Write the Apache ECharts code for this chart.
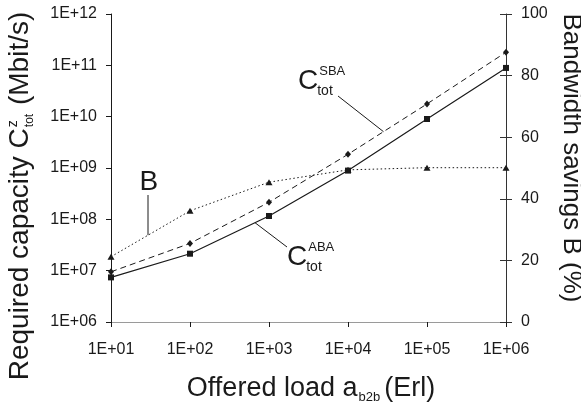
<!DOCTYPE html>
<html>
<head>
<meta charset="utf-8">
<script src="https://cdn.jsdelivr.net/npm/echarts@6/dist/echarts.min.js"></script>
<style>
  html, body { margin: 0; padding: 0; background: #ffffff; }
  #chart { width: 581px; height: 410px; }
</style>
</head>
<body>
<div id="chart"></div>
<script>
// Offered load (Erl) and the three curves drawn against it
const offeredLoad = [1e1, 1e2, 1e3, 1e4, 1e5, 1e6];
const capacitySBA = [9.5e6, 3.4e7, 2.15e8, 1.85e9, 1.77e10, 1.8e11];   // Mbit/s
const capacityABA = [7.4e6, 2.14e7, 1.16e8, 8.9e8, 9.0e9, 8.9e10];     // Mbit/s
const savingsB = [21.2, 36.1, 45.4, 49.4, 50.1, 50.1];                // %

// Tick labels
const loadTicks = ['1E+01', '1E+02', '1E+03', '1E+04', '1E+05', '1E+06'];
const capacityTicks = ['1E+06', '1E+07', '1E+08', '1E+09', '1E+10', '1E+11', '1E+12'];
const savingsTicks = [0, 20, 40, 60, 80, 100];

const FONT = '"Liberation Sans", Arial, Helvetica, sans-serif';
const INK = '#1a1a1a';

function labelByExponent(labels) {
  const map = {};
  labels.forEach(l => { map[Number(l.slice(3))] = l; });
  return v => map[Math.round(Math.log10(v))] || '';
}

const chart = echarts.init(document.getElementById('chart'));

const axisText = { fontFamily: FONT, fontSize: 16, color: INK };

chart.setOption({
  animation: false,
  backgroundColor: '#ffffff',
  grid: { left: 111, right: 75, top: 14, bottom: 88, containLabel: false, outerBoundsMode: 'none' },
  xAxis: [
    {
      type: 'log', logBase: 10, min: offeredLoad[0], max: offeredLoad[offeredLoad.length - 1],
      splitNumber: loadTicks.length - 1,
      axisLine: { show: true, lineStyle: { color: INK, width: 1 } },
      axisTick: { show: true, length: 5, lineStyle: { color: INK } },
      minorTick: { show: false },
      axisLabel: Object.assign({ margin: 20, formatter: labelByExponent(loadTicks) }, axisText),
      splitLine: { show: false }
    },
    {
      // thin frame line along the top of the plot
      type: 'log', logBase: 10, min: offeredLoad[0], max: offeredLoad[offeredLoad.length - 1],
      position: 'top',
      axisLine: { show: true, lineStyle: { color: '#9a9a9a', width: 1 } },
      axisTick: { show: false }, axisLabel: { show: false }, splitLine: { show: false }
    }
  ],
  yAxis: [
    {
      type: 'log', logBase: 10, min: 1e6, max: 1e12,
      splitNumber: capacityTicks.length - 1,
      axisLine: { show: true, lineStyle: { color: INK, width: 1 } },
      axisTick: { show: true, length: 5, lineStyle: { color: INK } },
      minorTick: { show: false },
      axisLabel: Object.assign({ margin: 14, formatter: labelByExponent(capacityTicks) }, axisText),
      splitLine: { show: false }
    },
    {
      type: 'value', position: 'right',
      min: savingsTicks[0], max: savingsTicks[savingsTicks.length - 1],
      interval: savingsTicks[1] - savingsTicks[0],
      axisLine: { show: true, lineStyle: { color: '#333333', width: 1 } },
      axisTick: { show: true, length: 6, lineStyle: { color: '#333333' } },
      axisLabel: Object.assign({ margin: 15 }, axisText),
      splitLine: { show: false }
    },
    {
      // inner half of the right-hand ticks, so they cross the axis line
      type: 'value', position: 'right',
      min: savingsTicks[0], max: savingsTicks[savingsTicks.length - 1],
      interval: savingsTicks[1] - savingsTicks[0],
      axisLine: { show: false },
      axisTick: { show: true, inside: true, length: 6, lineStyle: { color: '#333333' } },
      axisLabel: { show: false }, splitLine: { show: false }
    }
  ],
  series: [
    {
      name: 'B', type: 'line', xAxisIndex: 0, yAxisIndex: 1,
      data: offeredLoad.map((x, i) => [x, savingsB[i]]),
      symbol: 'triangle', symbolSize: [7, 6],
      lineStyle: { color: INK, width: 1, type: [1.5, 2.5] },
      itemStyle: { color: INK }, emphasis: { disabled: true }, z: 2
    },
    {
      name: 'SBA', type: 'line', xAxisIndex: 0, yAxisIndex: 0,
      data: offeredLoad.map((x, i) => [x, capacitySBA[i]]),
      symbol: 'diamond', symbolSize: [6, 7],
      lineStyle: { color: INK, width: 1, type: [6, 4] },
      itemStyle: { color: INK }, emphasis: { disabled: true }, z: 3
    },
    {
      name: 'ABA', type: 'line', xAxisIndex: 0, yAxisIndex: 0,
      data: offeredLoad.map((x, i) => [x, capacityABA[i]]),
      symbol: 'rect', symbolSize: 6,
      lineStyle: { color: INK, width: 1.2 },
      itemStyle: { color: INK }, emphasis: { disabled: true }, z: 4
    }
  ]
});

// ---- text helpers: a run of pieces on one baseline, with stacked super/subscripts
const measureCtx = document.createElement('canvas').getContext('2d');
function textWidth(str, size) {
  measureCtx.font = size + 'px ' + FONT;
  return measureCtx.measureText(str).width;
}
function textRun(pieces) {
  let x = 0;
  const children = [];
  pieces.forEach(p => {
    const parts = p.stack || [p];
    let adv = 0;
    parts.forEach(q => {
      const dx = q.dx || 0, dy = q.dy || 0;
      children.push({
        type: 'text', silent: true,
        x: x + dx, y: dy - 0.35 * q.size,
        style: { text: q.t, font: q.size + 'px ' + FONT, fill: INK,
                 textAlign: 'left', textVerticalAlign: 'middle' }
      });
      adv = Math.max(adv, textWidth(q.t, q.size) + dx);
    });
    x += adv + (p.gap || 0);
  });
  return { children, width: x };
}

// Point on a curve at a given pixel x, interpolated between the data points in log-x
function anchorOnSeries(values, yAxisIndex, logY, px) {
  const xd = chart.convertFromPixel({ xAxisIndex: 0 }, px);
  const lx = Math.log10(xd);
  const i = Math.min(Math.floor(lx) - 1, values.length - 2);
  const t = lx - (i + 1);
  const y = logY
    ? Math.pow(10, Math.log10(values[i]) + t * (Math.log10(values[i + 1]) - Math.log10(values[i])))
    : values[i] + t * (values[i + 1] - values[i]);
  return chart.convertToPixel({ xAxisIndex: 0, yAxisIndex: yAxisIndex }, [xd, y]);
}

const graphics = [];

// Axis titles
const xTitle = textRun([
  { t: 'Offered load a', size: 27 },
  { stack: [{ t: 'b2b', size: 13, dy: 4, dx: 1 }], gap: 4 },
  { t: '(Erl)', size: 27 }
]);
graphics.push({ type: 'group', x: 311 - xTitle.width / 2, y: 397.5, children: xTitle.children });

const leftTitle = textRun([
  { t: 'Required capacity C', size: 28 },
  { stack: [{ t: 'z', size: 14, dy: -12, dx: 1 }, { t: 'tot', size: 12, dy: 3, dx: 1 }], gap: 1 },
  { t: ' (Mbit/s)', size: 28 }
]);
graphics.push({
  type: 'group', x: 30.5, y: 196 + leftTitle.width / 2,
  rotation: Math.PI / 2, children: leftTitle.children
});

const rightTitle = textRun([{ t: 'Bandwidth savings B (%)', size: 26 }]);
graphics.push({
  type: 'group', x: 562, y: 158 - rightTitle.width / 2,
  rotation: -Math.PI / 2, children: rightTitle.children
});

// Curve annotations with leader lines
const leader = (from, to) => ({
  type: 'line', silent: true,
  shape: { x1: from[0], y1: from[1], x2: to[0], y2: to[1] },
  style: { stroke: INK, lineWidth: 1 }
});

const bLabel = textRun([{ t: 'B', size: 28 }]);
graphics.push({ type: 'group', x: 139.5, y: 191.7, children: bLabel.children });
graphics.push(leader([148, 195], anchorOnSeries(savingsB, 1, false, 148)));

const sbaLabel = textRun([
  { t: 'C', size: 28 },
  { stack: [{ t: 'SBA', size: 13, dy: -15, dx: 1 }, { t: 'tot', size: 14, dy: 5, dx: -1 }] }
]);
graphics.push({ type: 'group', x: 298, y: 91, children: sbaLabel.children });
graphics.push(leader([338, 96], anchorOnSeries(capacitySBA, 0, true, 383.5)));

const abaLabel = textRun([
  { t: 'C', size: 28 },
  { stack: [{ t: 'ABA', size: 13, dy: -15, dx: 1 }, { t: 'tot', size: 14, dy: 5, dx: -1 }] }
]);
graphics.push({ type: 'group', x: 287, y: 266.7, children: abaLabel.children });
graphics.push(leader([287, 247], anchorOnSeries(capacityABA, 0, true, 255)));

chart.setOption({ graphic: graphics });
</script>
</body>
</html>
